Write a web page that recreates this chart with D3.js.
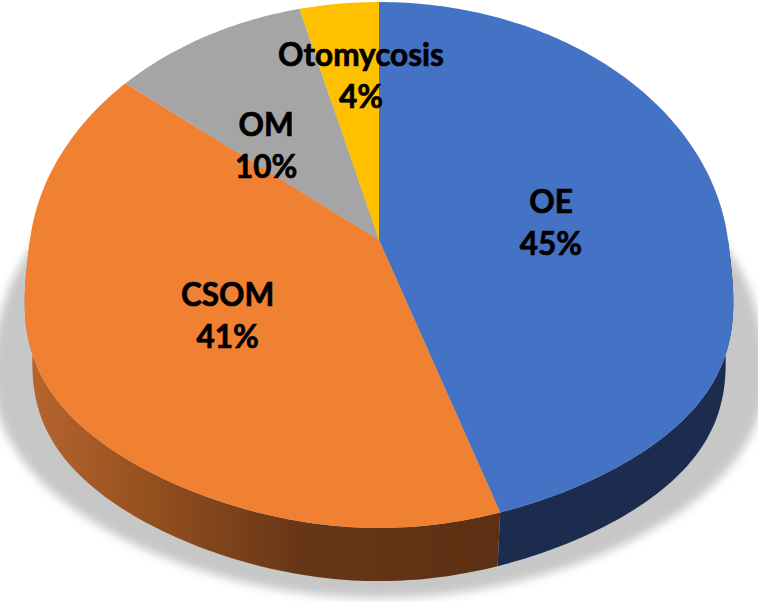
<!DOCTYPE html>
<html><head><meta charset="utf-8">
<script src="https://cdn.jsdelivr.net/npm/d3@7/dist/d3.min.js"></script>
<style>html,body{margin:0;padding:0;background:#fff;}svg{display:block;}</style>
</head><body>
<svg id="chart" width="758" height="602"></svg>
<script>
// ---- data ----
const categories = ["OE", "CSOM", "OM", "Otomycosis"];
const values = [45, 41, 10, 4];
const percentLabels = ["45%", "41%", "10%", "4%"];

// ---- styles / layout ----
const topColors = ["#4472C4", "#F08133", "#A5A5A5", "#FFC000"];
const sideColors = ["#1B2C4F", "url(#orangeSide)", "#6B6B6B", "#A67C00"];
const labelRadius = [0.5, 0.5, 0.5, 0.67];
const labelShiftDeg = [1.6, -0.7, -9.6, 2.5];

const svg = d3.select("#chart");

// perspective projections for top face, bottom face and shadow
const topP = {cx: 379, cy: 240, A: 349, B: 260.6, p: 0.095, bulge: 0.5};
const botP = {cx: 379, cy: 303, A: 341.5, B: 251.7, p: 0.095, bulge: 0.5};
const shadowP = {cx: 379, cy: 300, A: 374, B: 238.4, p: 0.2, bulge: 0.3};

function proj(P, r, phi) {
  const u = r * Math.sin(phi), v = r * Math.cos(phi);
  const w = 1 + P.p * v;
  const s = Math.max(0, -v);
  const widen = 1 + P.bulge * s * s * (1 - s);
  return [P.cx + P.A * u * widen / w, P.cy - P.B * v / w];
}
function arcPts(P, a0, a1, n) {
  const pts = [];
  for (let i = 0; i <= n; i++) pts.push(proj(P, 1, a0 + (a1 - a0) * i / n));
  return pts;
}
const line = d3.line();

const defs = svg.append("defs");
const f = defs.append("filter").attr("id", "blur").attr("x", "-20%").attr("y", "-20%").attr("width", "140%").attr("height", "140%");
f.append("feGaussianBlur").attr("stdDeviation", 5);
const g1 = defs.append("linearGradient").attr("id", "orangeSide")
  .attr("gradientUnits", "userSpaceOnUse").attr("x1", 28).attr("x2", 497).attr("y1", 0).attr("y2", 0);
[[0, "#B8652D"], [0.26, "#94501F"], [0.58, "#673617"], [1, "#5D3013"]].forEach(s =>
  g1.append("stop").attr("offset", s[0]).attr("stop-color", s[1]));

// shadow
svg.append("path")
  .attr("d", line(arcPts(shadowP, 0, 2 * Math.PI, 180)) + "Z")
  .attr("fill", "#000").attr("fill-opacity", 0.22).attr("filter", "url(#blur)");

const pie = d3.pie().sort(null).value(d => d)(values);

// sides (front half only)
const visA = Math.PI / 2, visB = 3 * Math.PI / 2;
pie.forEach((s, i) => {
  const a0 = Math.max(s.startAngle, visA), a1 = Math.min(s.endAngle, visB);
  if (a1 <= a0) return;
  const n = Math.max(4, Math.round((a1 - a0) * 60));
  const topPts = arcPts(topP, a0, a1, n);
  const botPts = arcPts(botP, a0, a1, n).reverse();
  svg.append("path")
    .attr("d", line(topPts.concat(botPts)) + "Z")
    .attr("fill", sideColors[i]);
});

// top faces
pie.forEach((s, i) => {
  const n = Math.max(4, Math.round((s.endAngle - s.startAngle) * 60));
  const pts = [proj(topP, 0, 0)].concat(arcPts(topP, s.startAngle, s.endAngle, n));
  svg.append("path")
    .attr("d", line(pts) + "Z")
    .attr("fill", topColors[i]);
});

// labels
pie.forEach((s, i) => {
  const mid = (s.startAngle + s.endAngle) / 2 + labelShiftDeg[i] * Math.PI / 180;
  const [x, y] = proj(topP, labelRadius[i], mid);
  const t = svg.append("text")
    .attr("text-anchor", "middle")
    .attr("font-family", "Lato, 'Open Sans', sans-serif")
    .attr("font-weight", "bold")
    .attr("font-size", 31.5)
    .attr("fill", "#000")
    .attr("stroke", "#000").attr("stroke-width", 0.7);
  t.append("tspan").attr("x", x).attr("y", y - 10.5).text(categories[i]);
  t.append("tspan").attr("x", x).attr("y", y + 31.5).text(percentLabels[i]);
});
</script>
</body></html>
